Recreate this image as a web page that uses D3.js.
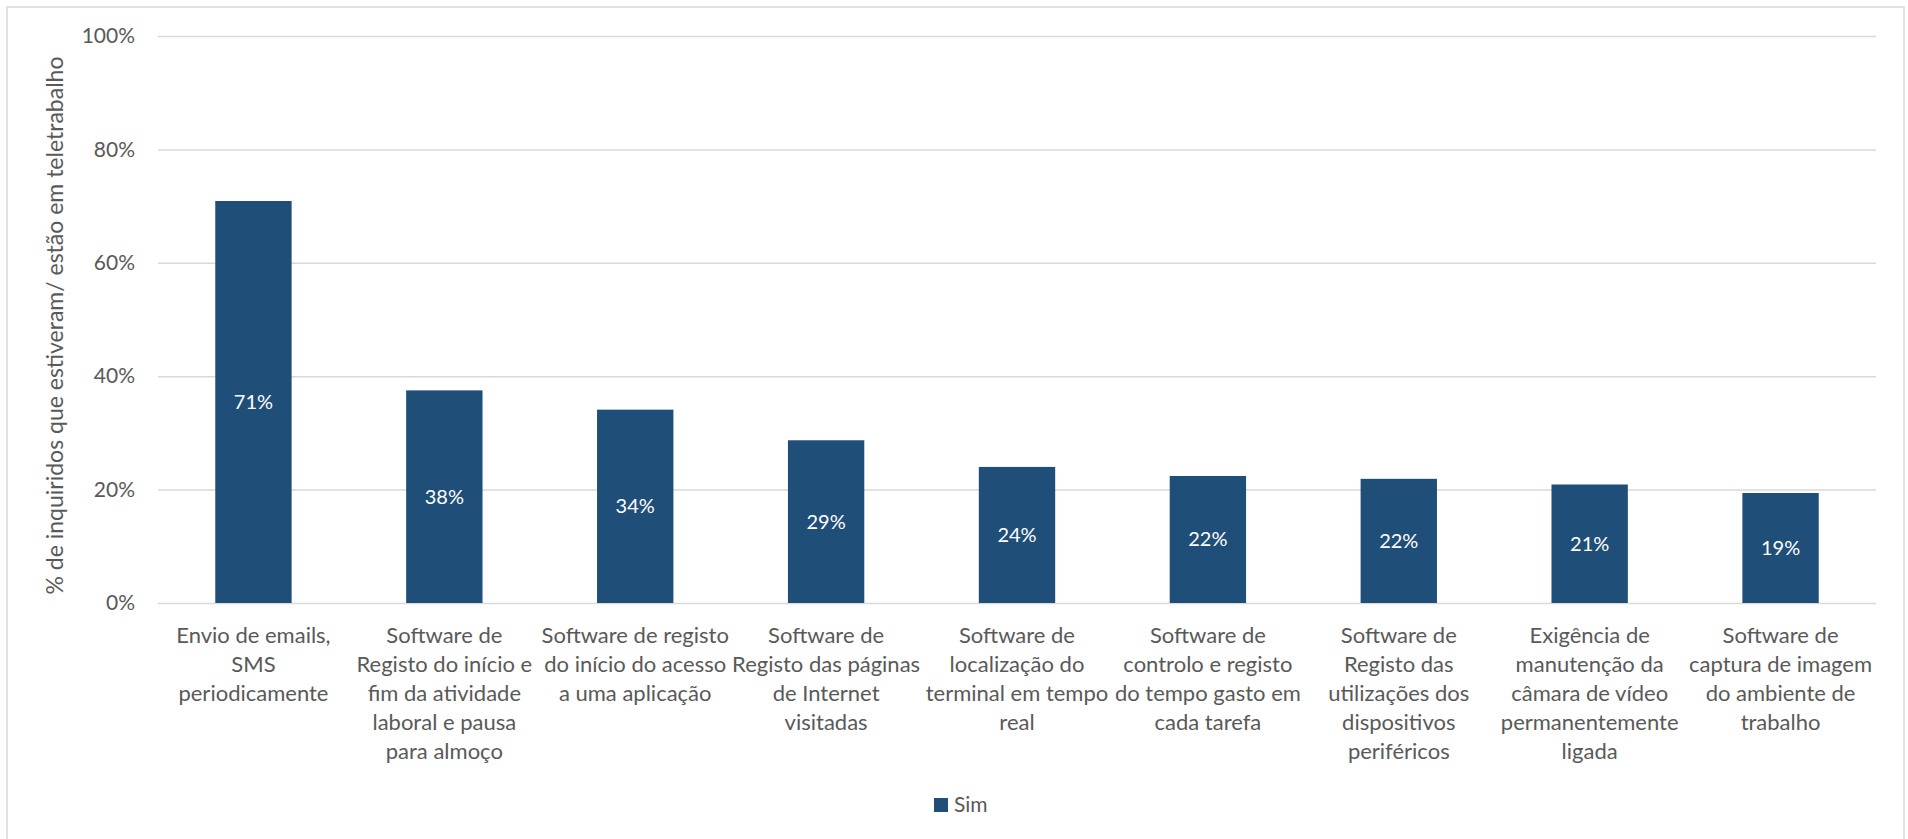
<!DOCTYPE html>
<html>
<head>
<meta charset="utf-8">
<script src="https://cdn.jsdelivr.net/npm/d3@7"></script>
<style>
  html, body { margin: 0; padding: 0; background: #fff; }
  text { font-family: Lato, "Noto Sans", sans-serif; }
</style>
</head>
<body>
<div id="chart"></div>
<script>
const width = 1908;
const height = 839;

// Chart data
const categories = [
  ['Envio de emails,', 'SMS', 'periodicamente'],
  ['Software de', 'Registo do início e', 'fim da atividade', 'laboral e pausa', 'para almoço'],
  ['Software de registo', 'do início do acesso', 'a uma aplicação'],
  ['Software de', 'Registo das páginas', 'de Internet', 'visitadas'],
  ['Software de', 'localização do', 'terminal em tempo', 'real'],
  ['Software de', 'controlo e registo', 'do tempo gasto em', 'cada tarefa'],
  ['Software de', 'Registo das', 'utilizações dos', 'dispositivos', 'periféricos'],
  ['Exigência de', 'manutenção da', 'câmara de vídeo', 'permanentemente', 'ligada'],
  ['Software de', 'captura de imagem', 'do ambiente de', 'trabalho']
];
const simValues = [0.709, 0.375, 0.341, 0.287, 0.240, 0.224, 0.219, 0.209, 0.194];
const simLabels = ['71%', '38%', '34%', '29%', '24%', '22%', '22%', '21%', '19%'];
const yTicks = [0, 0.2, 0.4, 0.6, 0.8, 1.0];
const seriesName = 'Sim';
const yTitle = '% de inquiridos que estiveram/ estão em teletrabalho';

const barColor = '#1f4e79';
const textColor = '#595959';
const gridColor = '#d9d9d9';

const margin = { top: 36, right: 32, bottom: 236, left: 158 };

const svg = d3.select('#chart')
  .append('svg')
  .attr('width', width)
  .attr('height', height);

// Outer chart border
svg.append('rect')
  .attr('x', 7)
  .attr('y', 7)
  .attr('width', 1897)
  .attr('height', 850)
  .attr('fill', 'none')
  .attr('stroke', gridColor)
  .attr('stroke-width', 1.5);

const x = d3.scaleBand()
  .domain(d3.range(categories.length))
  .range([margin.left, width - margin.right])
  .paddingInner(0.6)
  .paddingOuter(0.3);

const y = d3.scaleLinear()
  .domain([0, 1])
  .range([height - margin.bottom, margin.top]);

// Gridlines and y axis
const yAxis = d3.axisLeft(y)
  .tickValues(yTicks)
  .tickFormat(d3.format('.0%'))
  .tickSize(-(width - margin.left - margin.right))
  .tickPadding(23);

const yg = svg.append('g')
  .attr('transform', `translate(${margin.left},0)`)
  .call(yAxis);
yg.select('.domain').remove();
yg.selectAll('line').attr('stroke', gridColor).attr('stroke-width', 1.5);
yg.selectAll('text')
  .attr('fill', textColor)
  .style('font-size', '21px');

// Bars
svg.selectAll('.bar')
  .data(simValues)
  .enter()
  .append('rect')
  .attr('class', 'bar')
  .attr('x', (d, i) => x(i))
  .attr('y', d => y(d))
  .attr('width', x.bandwidth())
  .attr('height', d => y(0) - y(d))
  .attr('fill', barColor);

// Data labels centred in each bar
svg.selectAll('.label')
  .data(simValues)
  .enter()
  .append('text')
  .attr('class', 'label')
  .attr('x', (d, i) => x(i) + x.bandwidth() / 2)
  .attr('y', d => (y(d) + y(0)) / 2)
  .attr('dy', '0.35em')
  .attr('text-anchor', 'middle')
  .attr('fill', '#fff')
  .style('font-size', '20px')
  .text((d, i) => simLabels[i]);

// Category labels
const cats = svg.selectAll('.cat')
  .data(categories)
  .enter()
  .append('text')
  .attr('class', 'cat')
  .attr('text-anchor', 'middle')
  .attr('fill', textColor)
  .style('font-size', '22px');

cats.selectAll('tspan')
  .data((d, i) => d.map(line => ({ line, i })))
  .enter()
  .append('tspan')
  .attr('x', d => x(d.i) + x.bandwidth() / 2)
  .attr('y', (d, j) => y(0) + 40 + j * 29)
  .text(d => d.line);

// Y axis title
svg.append('text')
  .attr('transform', `translate(63,${(y(0) + y(1)) / 2 + 6}) rotate(-90)`)
  .attr('text-anchor', 'middle')
  .attr('fill', textColor)
  .style('font-size', '23px')
  .text(yTitle);

// Legend
const legend = svg.append('g')
  .attr('transform', 'translate(934,798)');
legend.append('rect')
  .attr('width', 14)
  .attr('height', 14)
  .attr('fill', barColor);
legend.append('text')
  .attr('x', 20)
  .attr('y', 7)
  .attr('dy', '0.35em')
  .attr('fill', textColor)
  .style('font-size', '21px')
  .text(seriesName);
</script>
</body>
</html>
